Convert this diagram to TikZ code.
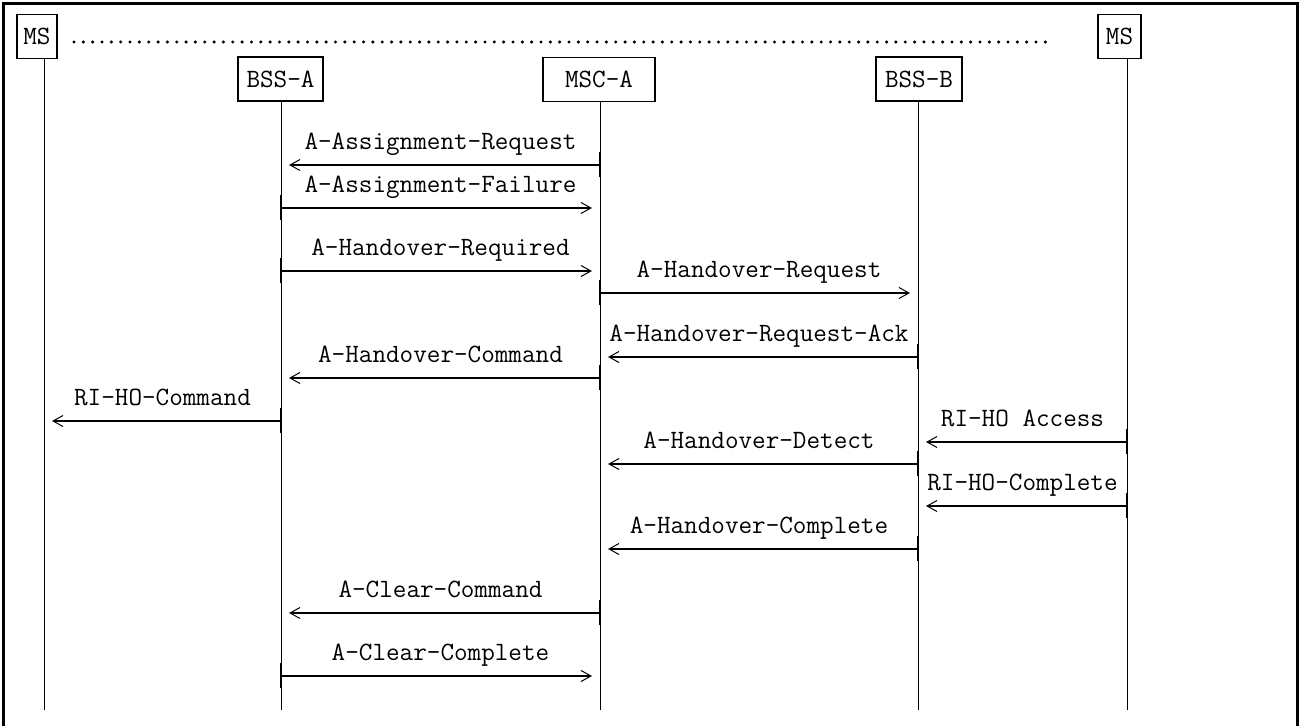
\documentclass[tikz,border=0pt]{standalone}
\usepackage{tikz}
\usetikzlibrary{arrows.meta}

\begin{document}
\begin{tikzpicture}[
        x=0.5pt, y=-0.5pt,
        every node/.style={font=\ttfamily\fontsize{13.2}{15}\selectfont},
        entity/.style={draw, line width=0.6pt, minimum height=22pt, inner sep=0pt},
        life/.style={line width=0.5pt},
        msg/.style={line width=1pt, shorten >=4pt,
            -{Straight Barb[length=5pt,width=5.5pt,line width=0.5pt]}},
        srctick/.style={line width=1pt},
        frame/.style={line width=1.5pt}
    ]
    \useasboundingbox (0,0) rectangle (1301,726);

    % ============ rahmen ============
    \draw[frame] (3.5,726) -- (3.5,3.5) -- (1297.5,3.5) -- (1297.5,726);

    % ============ entitaeten ============
    \node[entity, minimum width=20pt]   (msl)  at (37,36.5)   {MS};
    \node[entity, minimum width=42.5pt] (bssa) at (280.5,79)  {BSS-A};
    \node[entity, minimum width=56pt]   (msca) at (599,79.5)  {MSC-A};
    \node[entity, minimum width=43pt]   (bssb) at (919,79)    {BSS-B};
    \node[entity, minimum width=21.5pt] (msr)  at (1119.5,36.5) {MS};

    \draw[line width=1.7pt, line cap=round, dash pattern=on 0pt off 4.67pt]
    (74,42) -- (1046,42);

    % lebenslinien
    \coordinate (lmsl)  at (44,58);
    \coordinate (lbssa) at (281,101);
    \coordinate (lmsca) at (600,102);
    \coordinate (lbssb) at (918,101);
    \coordinate (lmsr)  at (1127,58);
    \foreach \ll in {lmsl,lbssa,lmsca,lbssb,lmsr}
    \draw[life] (\ll) -- (\ll |- 0,710);

    % ============ nachrichten ============
    \foreach \src/\dst/\yy/\txt in {
            lmsca/lbssa/165/A-Assignment-Request,
            lbssa/lmsca/208/A-Assignment-Failure,
            lbssa/lmsca/271/A-Handover-Required,
            lmsca/lbssb/293/A-Handover-Request,
            lbssb/lmsca/357/A-Handover-Request-Ack,
            lmsca/lbssa/378/A-Handover-Command,
            lbssa/lmsl/421/RI-HO-Command,
            lmsr/lbssb/442/RI-HO Access,
            lbssb/lmsca/464/A-Handover-Detect,
            lmsr/lbssb/506/RI-HO-Complete,
            lbssb/lmsca/549/A-Handover-Complete,
            lmsca/lbssa/613/A-Clear-Command,
            lbssa/lmsca/676/A-Clear-Complete} {
        \draw[srctick] (\src |- 0,\yy-13) -- (\src |- 0,\yy+12);
        \draw[msg] (\src |- 0,\yy) -- (\dst |- 0,\yy)
        node[midway, anchor=base, yshift=7.5pt] {\txt};
    }
\end{tikzpicture}
\end{document}
